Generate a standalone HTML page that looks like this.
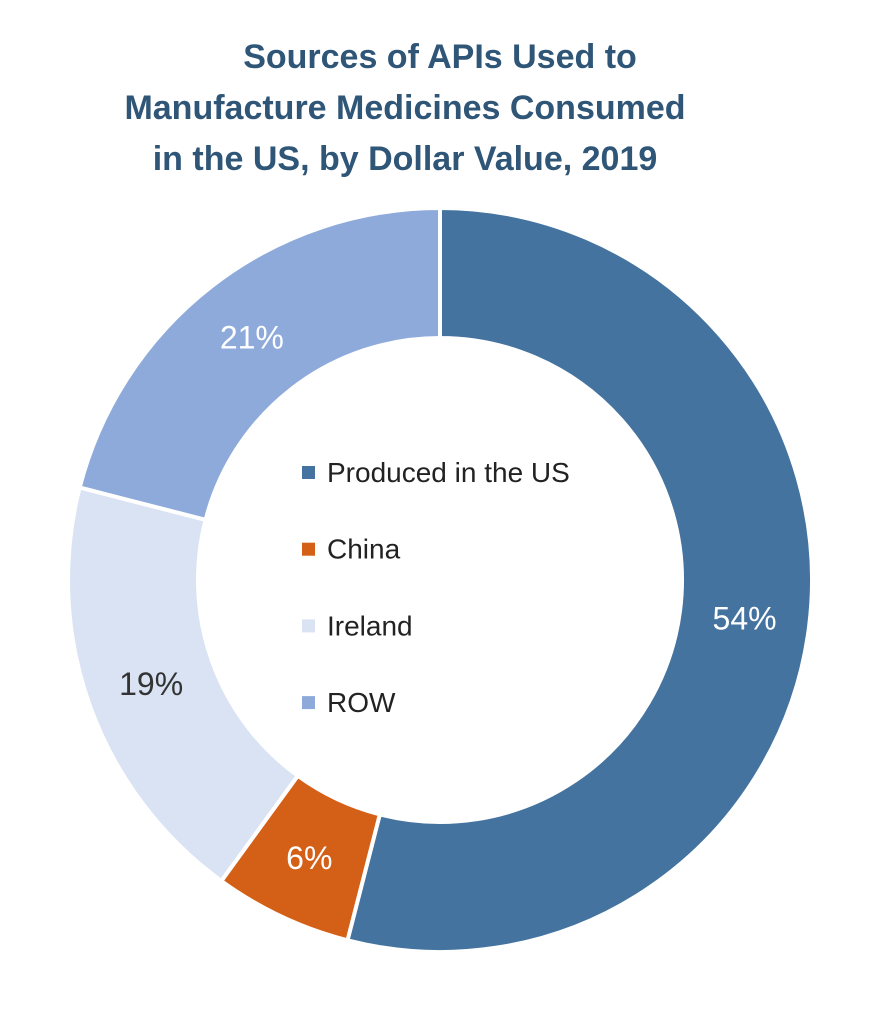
<!DOCTYPE html>
<html><head><meta charset="utf-8"><style>
html,body{margin:0;padding:0;background:#fff;}
body{width:894px;height:1025px;overflow:hidden;font-family:"Liberation Sans",sans-serif;}
</style></head><body>
<svg width="894" height="1025" viewBox="0 0 894 1025">
<g font-family="Liberation Sans, sans-serif" font-weight="bold" font-size="34" fill="#2f5577" text-anchor="middle">
<text x="440" y="68">Sources of APIs Used to</text>
<text x="405" y="119">Manufacture Medicines Consumed</text>
<text x="405" y="170">in the US, by Dollar Value, 2019</text>
</g>
<g id="slices"></g>
<g id="labels"></g>
<g id="legend"></g>
</svg>
<script>
const categories = ["Produced in the US","China","Ireland","ROW"];
const values = [54,6,19,21];
const colors = ["#44739f","#d45f17","#dae3f3","#8eaadb"];
const labelColors = ["#ffffff","#ffffff","#333333","#ffffff"];
const NS="http://www.w3.org/2000/svg";
const cx=440, cy=580, R=372, r=242;
const total=values.reduce((a,b)=>a+b,0);
function pt(a,rad){return [cx+rad*Math.sin(a), cy-rad*Math.cos(a)];}
let acc=0;
const sg=document.getElementById('slices'), lg=document.getElementById('labels'), leg=document.getElementById('legend');
values.forEach((v,i)=>{
  const a0=acc/total*2*Math.PI, a1=(acc+v)/total*2*Math.PI; acc+=v;
  const large=(a1-a0)>Math.PI?1:0;
  const p0=pt(a0,R),p1=pt(a1,R),q1=pt(a1,r),q0=pt(a0,r);
  const p=document.createElementNS(NS,'path');
  p.setAttribute('d',`M${p0[0]},${p0[1]} A${R},${R} 0 ${large} 1 ${p1[0]},${p1[1]} L${q1[0]},${q1[1]} A${r},${r} 0 ${large} 0 ${q0[0]},${q0[1]} Z`);
  p.setAttribute('fill',colors[i]);p.setAttribute('stroke','#fff');p.setAttribute('stroke-width','4');
  
  
  sg.appendChild(p);
  const m=pt((a0+a1)/2,(R+r)/2);
  const t=document.createElementNS(NS,'text');
  t.setAttribute('x',m[0]);t.setAttribute('y',m[1]+11);t.setAttribute('text-anchor','middle');
  t.setAttribute('font-size','32');t.setAttribute('fill',labelColors[i]);
  t.textContent=v+'%';
  
  
  lg.appendChild(t);
  const y=472+i*76.7;
  const g=document.createElementNS(NS,'g');
  
  
  const s=document.createElementNS(NS,'rect');
  s.setAttribute('x',302);s.setAttribute('y',y-6);s.setAttribute('width',13);s.setAttribute('height',13);s.setAttribute('fill',colors[i]);
  
  
  const lt=document.createElementNS(NS,'text');
  lt.setAttribute('x',327);lt.setAttribute('y',y+10);lt.setAttribute('font-size','28');lt.setAttribute('fill','#222');
  lt.textContent=categories[i];
  
  
  g.appendChild(s);g.appendChild(lt);leg.appendChild(g);
});
</script>
</body></html>
